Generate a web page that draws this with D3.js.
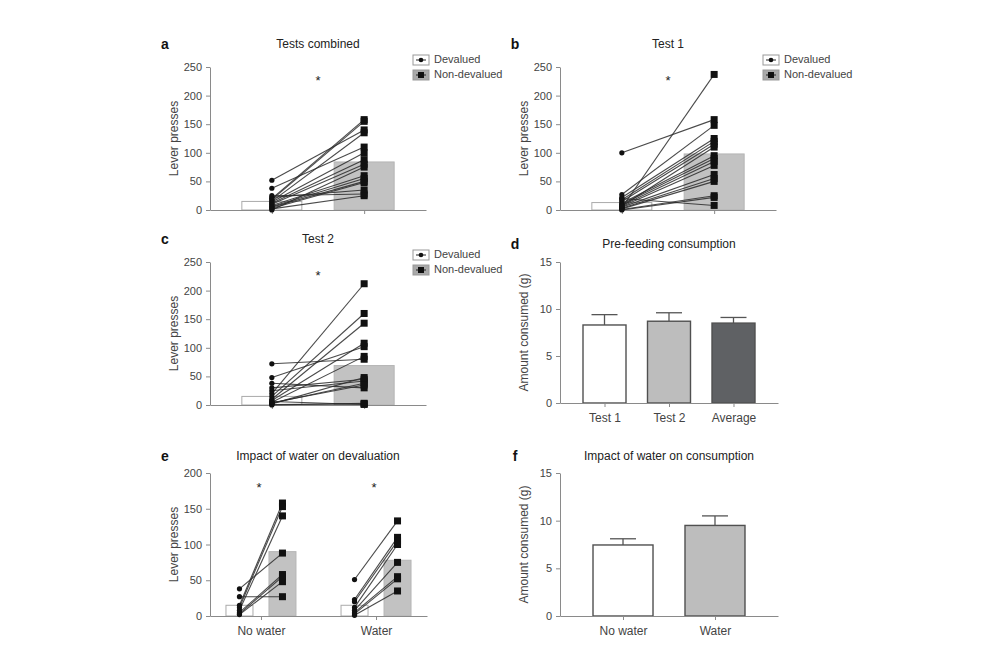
<!DOCTYPE html>
<html><head><meta charset="utf-8">
<script src="https://cdn.jsdelivr.net/npm/d3@7"></script>
<style>
body{margin:0;background:#fff;}
text{font-family:"Liberation Sans",Arial,sans-serif;}
</style></head>
<body><svg id="c" width="1008" height="672"></svg>
<script>
// ---------- data ----------
const conds = ["Devalued", "Non-devalued"];
const leverTicks = [0, 50, 100, 150, 200, 250];
const eTicks = [0, 50, 100, 150, 200];
const gramTicks = [0, 5, 10, 15];

// a: tests combined (paired subjects)
const aDev = [52, 38, 25, 22, 20, 18, 15, 14, 12, 10, 8, 6, 5, 3, 2, 0];
const aNon = [140, 110, 28, 35, 158, 155, 135, 100, 88, 80, 60, 55, 50, 48, 25, 75];
const aBars = [15, 84];
// b: test 1
const bDev = [100, 4, 27, 22, 18, 15, 12, 10, 8, 6, 5, 3, 2, 1, 0, 20, 7];
const bNon = [158, 237, 148, 125, 120, 115, 95, 90, 85, 78, 62, 55, 50, 25, 22, 8, 110];
const bBars = [13, 98];
// c: test 2
const cDev = [72, 48, 38, 30, 25, 20, 15, 10, 8, 5, 3, 2, 1, 0, 4, 6];
const cNon = [80, 102, 30, 45, 42, 212, 160, 143, 108, 85, 38, 48, 2, 3, 35, 1];
const cBars = [15, 69];
// d: pre-feeding consumption
const dCats = ["Test 1", "Test 2", "Average"];
const dMeans = [8.3, 8.7, 8.5];
const dSem = [1.1, 0.9, 0.6];
// e: impact of water on devaluation
const eGroups = ["No water", "Water"];
const eNoWaterDev = [38, 27, 15, 12, 8, 5, 3, 2];
const eNoWaterNon = [88, 27, 158, 153, 140, 58, 55, 48];
const eWaterDev = [51, 23, 20, 12, 8, 5, 3, 1];
const eWaterNon = [133, 110, 105, 100, 75, 55, 52, 35];
const eBarsNoWater = [15, 90];
const eBarsWater = [15, 78];
// f: impact of water on consumption
const fCats = ["No water", "Water"];
const fMeans = [7.45, 9.5];
const fSem = [0.65, 1.0];
const starLever = 230;
const starE = 182;

// ---------- style ----------
const svg = d3.select("#c");
const AX = "#8a8a8a", TXT = "#444", DARK = "#222";
const GRAY = "#c2c2c2";

function yAxis(g, y, ticks, x0) {
  const ax = g.append("g").attr("transform", `translate(${x0},0)`)
    .call(d3.axisLeft(y).tickValues(ticks).tickSize(4).tickPadding(4).tickSizeOuter(0));
  ax.select(".domain").attr("stroke", AX);
  ax.selectAll(".tick line").attr("stroke", AX);
  ax.selectAll(".tick text").attr("fill", TXT).style("font-size", "11px")
    .style("font-family", '"Liberation Sans",Arial,sans-serif');
}
function xAxis(g, x, y0, labels) {
  const ax = g.append("g").attr("transform", `translate(0,${y0})`)
    .call(d3.axisBottom(x).tickSize(4).tickSizeOuter(0).tickPadding(6));
  ax.select(".domain").attr("stroke", AX);
  ax.selectAll(".tick line").attr("stroke", AX);
  ax.selectAll(".tick text").attr("fill", TXT).style("font-size", "12px")
    .style("font-family", '"Liberation Sans",Arial,sans-serif')
    .text(labels ? (d => d) : "");
}
function text(x, y, s, opts = {}) {
  const t = svg.append("text").attr("x", x).attr("y", y).text(s)
    .attr("fill", opts.fill || DARK).style("font-size", (opts.size || 12) + "px")
    .attr("text-anchor", opts.anchor || "middle").attr("dominant-baseline", "middle");
  if (opts.bold) t.style("font-weight", "bold");
  if (opts.rotate) t.attr("transform", `rotate(-90,${x},${y})`);
  return t;
}
function legend(x, y) {
  // Devalued
  svg.append("rect").attr("x", x).attr("y", y - 5).attr("width", 16).attr("height", 10)
    .attr("fill", "#fff").attr("stroke", "#999");
  svg.append("line").attr("x1", x + 3).attr("x2", x + 13).attr("y1", y).attr("y2", y).attr("stroke", "#222");
  svg.append("circle").attr("cx", x + 8).attr("cy", y).attr("r", 2.3).attr("fill", "#111");
  text(x + 21, y, conds[0], {anchor: "start", size: 11, fill: TXT});
  // Non-devalued
  const y2 = y + 15;
  svg.append("rect").attr("x", x).attr("y", y2 - 5).attr("width", 16).attr("height", 10)
    .attr("fill", "#a9a9a9").attr("stroke", "#999");
  svg.append("line").attr("x1", x + 3).attr("x2", x + 13).attr("y1", y2).attr("y2", y2).attr("stroke", "#222");
  svg.append("rect").attr("x", x + 5).attr("y", y2 - 3).attr("width", 6).attr("height", 6).attr("fill", "#111");
  text(x + 21, y2, conds[1], {anchor: "start", size: 11, fill: TXT});
}
function pairs(g, xDev, xNon, y, dev, non) {
  const data = dev.map((d, i) => [d, non[i]]);
  g.selectAll(null).data(data).enter().append("line")
    .attr("x1", xDev).attr("x2", xNon)
    .attr("y1", d => y(d[0])).attr("y2", d => y(d[1]))
    .attr("stroke", "#2b2b2b").attr("stroke-width", 1.1).attr("opacity", 0.85);
  g.selectAll(null).data(dev).enter().append("circle")
    .attr("cx", xDev).attr("cy", d => y(d)).attr("r", 2.6).attr("fill", "#111");
  g.selectAll(null).data(non).enter().append("rect")
    .attr("x", xNon - 3.5).attr("y", d => y(d) - 3.5).attr("width", 7).attr("height", 7).attr("fill", "#111");
}
function condBars(g, xScale, y, vals, w, offset = 0) {
  g.selectAll(null).data(vals).enter().append("rect")
    .attr("x", (d, i) => offset + xScale(conds[i]) - w / 2)
    .attr("y", d => y(d)).attr("width", w).attr("height", d => y(0) - y(d))
    .attr("fill", (d, i) => i === 0 ? "#fff" : GRAY)
    .attr("stroke", (d, i) => i === 0 ? "#aaa" : "#b5b5b5").attr("stroke-width", 1);
}

// ---------- lever-press panels a, b, c ----------
function leverPanel(ox, oy, letter, title, dev, non, bars) {
  const x0 = 210 + ox, x1 = 426 + ox;
  const y = d3.scaleLinear().domain([0, 250]).range([210 + oy, 67 + oy]);
  const x = d3.scalePoint().domain(conds).range([x0, x1]).padding(0.67);
  const g = svg.append("g");
  condBars(g, x, y, bars, 60);
  xAxis(g, x, y(0), false);
  yAxis(g, y, leverTicks, x0);
  pairs(g, x(conds[0]), x(conds[1]), y, dev, non);
  text(165 + ox, 45 + oy, letter, {bold: true, size: 14, fill: "#111"});
  text(318 + ox, 45 + oy, title, {size: 12});
  text(175 + ox, (y(0) + y(250)) / 2, "Lever presses", {rotate: true, size: 12, fill: TXT});
  text((x(conds[0]) + x(conds[1])) / 2, y(starLever) + 3, "*", {size: 13});
  legend(413 + ox, 60 + oy);
}
leverPanel(0, 0, "a", "Tests combined", aDev, aNon, aBars);
leverPanel(350, 0, "b", "Test 1", bDev, bNon, bBars);
leverPanel(0, 195, "c", "Test 2", cDev, cNon, cBars);

// ---------- consumption panels d, f ----------
function consPanel(oy, letter, title, cats, means, sem, fills, bw, pad, yTop, yBot) {
  const x0 = 560, x1 = 778;
  const y = d3.scaleLinear().domain([0, 15]).range([yBot, yTop]);
  const x = d3.scalePoint().domain(cats).range([x0, x1]).padding(pad);
  const g = svg.append("g");
  const data = cats.map((c, i) => ({c, m: means[i], s: sem[i], f: fills[i]}));
  g.selectAll(null).data(data).enter().append("line")
    .attr("x1", d => x(d.c)).attr("x2", d => x(d.c))
    .attr("y1", d => y(d.m)).attr("y2", d => y(d.m + d.s)).attr("stroke", "#555").attr("stroke-width", 1.3);
  g.selectAll(null).data(data).enter().append("line")
    .attr("x1", d => x(d.c) - 13).attr("x2", d => x(d.c) + 13)
    .attr("y1", d => y(d.m + d.s)).attr("y2", d => y(d.m + d.s)).attr("stroke", "#555").attr("stroke-width", 1.3);
  g.selectAll(null).data(data).enter().append("rect")
    .attr("x", d => x(d.c) - bw / 2).attr("y", d => y(d.m))
    .attr("width", bw).attr("height", d => y(0) - y(d.m))
    .attr("fill", d => d.f).attr("stroke", "#505050").attr("stroke-width", 1.4);
  xAxis(g, x, y(0), true);
  yAxis(g, y, gramTicks, x0);
  text(515, oy + 15, letter, {bold: true, size: 14, fill: "#111"});
  text(669, oy + 15, title, {size: 12});
  text(525, (y(0) + y(15)) / 2, "Amount consumed (g)", {rotate: true, size: 12, fill: TXT});
}
consPanel(230, "d", "Pre-feeding consumption", dCats, dMeans, dSem, ["#ffffff", "#bdbdbd", "#5f6164"], 43, 0.69, 262, 403);
consPanel(442, "f", "Impact of water on consumption", fCats, fMeans, fSem, ["#ffffff", "#bdbdbd"], 60, 0.685, 473, 616);

// ---------- panel e ----------
(function () {
  const x0 = 210, x1 = 427;
  const y = d3.scaleLinear().domain([0, 200]).range([616, 473]);
  const xg = d3.scalePoint().domain(eGroups).range([x0, x1]).padding(0.443);
  const xi = d3.scalePoint().domain(conds).range([-21.5, 21.5]);
  const g = svg.append("g");
  condBars(g, xi, y, eBarsNoWater, 27, xg(eGroups[0]));
  condBars(g, xi, y, eBarsWater, 27, xg(eGroups[1]));
  xAxis(g, xg, y(0), true);
  yAxis(g, y, eTicks, x0);
  pairs(g, xg(eGroups[0]) + xi(conds[0]), xg(eGroups[0]) + xi(conds[1]), y, eNoWaterDev, eNoWaterNon);
  pairs(g, xg(eGroups[1]) + xi(conds[0]), xg(eGroups[1]) + xi(conds[1]), y, eWaterDev, eWaterNon);
  text(165, 457, "e", {bold: true, size: 14, fill: "#111"});
  text(318, 457, "Impact of water on devaluation", {size: 12});
  text(175, (y(0) + y(200)) / 2, "Lever presses", {rotate: true, size: 12, fill: TXT});
  eGroups.forEach(gr => text(xg(gr) - 2, y(starE) + 3, "*", {size: 13}));
})();
</script></body></html>
